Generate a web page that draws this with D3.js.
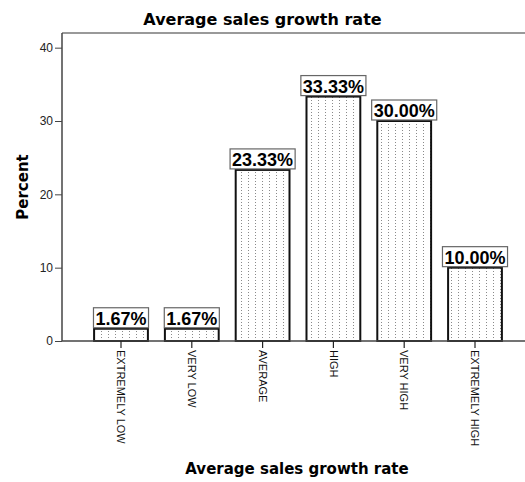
<!DOCTYPE html>
<html><head><meta charset="utf-8">
<script src="https://cdn.jsdelivr.net/npm/d3@7"></script>
<style>body{margin:0;background:#fff}</style>
</head><body>
<svg id="c" width="525" height="482"></svg>
<script>
const categories = ["EXTREMELY LOW","VERY LOW","AVERAGE","HIGH","VERY HIGH","EXTREMELY HIGH"];
const percents = [1.67, 1.67, 23.33, 33.33, 30.00, 10.00];
const yTicks = [0, 10, 20, 30, 40];
const title = "Average sales growth rate";
const xTitle = "Average sales growth rate";
const yTitle = "Percent";

const svg = d3.select("#c");
const pLeft = 62, pRight = 525, pTop = 33, pBottom = 341;

const defs = svg.append("defs");
const pat = defs.append("pattern").attr("id","dots").attr("patternUnits","userSpaceOnUse")
  .attr("width",7).attr("height",3).attr("x",0).attr("y",0);
pat.append("rect").attr("width",7).attr("height",3).attr("fill","#fff");
pat.append("rect").attr("x",3).attr("y",1).attr("width",1).attr("height",1).attr("fill","#8a8a8a");

const x = d3.scaleBand().domain(categories).range([85.6, 510.4]).paddingInner(0.24).paddingOuter(0.12);
const y = d3.scaleLinear().domain([0, 42]).range([pBottom, pTop]);

// title
svg.append("text").attr("x",262.5).attr("y",25).attr("text-anchor","middle")
  .attr("font-family","DejaVu Sans").attr("font-weight","bold").attr("font-size",16).attr("fill","#000").text(title);

// frame top line
svg.append("line").attr("x1",pLeft).attr("x2",pRight).attr("y1",pTop).attr("y2",pTop)
  .attr("stroke","#777").attr("stroke-width",1.5);

// y axis
const yAxis = d3.axisLeft(y).tickValues(yTicks).tickSize(7).tickPadding(2).tickFormat(d3.format("d"));
const ya = svg.append("g").attr("transform",`translate(${pLeft},0)`).call(yAxis);
ya.select(".domain").attr("d",`M0,${pTop}V${pBottom}`).attr("stroke","#444").attr("stroke-width",1.5);
ya.selectAll(".tick line").attr("stroke","#444");
ya.selectAll(".tick text").attr("font-family","Liberation Sans, Arial").attr("font-size",12).attr("fill","#222");

// bars
const bw = x.bandwidth();
svg.append("g").selectAll("rect").data(percents).join("rect")
  .attr("x",(d,i)=>x(categories[i])).attr("width",bw)
  .attr("y",d=>y(d)).attr("height",d=>y(0)-y(d))
  .attr("fill","url(#dots)").attr("stroke","#111").attr("stroke-width",2);

// x axis
const xAxis = d3.axisBottom(x).tickSize(7).tickPadding(3);
const xa = svg.append("g").attr("transform",`translate(0,${pBottom})`).call(xAxis);
xa.select(".domain").attr("d",`M${pLeft},0H${pRight}`).attr("stroke","#444").attr("stroke-width",1.5);
xa.selectAll(".tick line").attr("stroke","#222").attr("stroke-width",1.2);
xa.selectAll(".tick text")
  .attr("font-family","Liberation Sans, Arial").attr("font-size",11).attr("fill","#111")
  .attr("text-anchor","start").attr("dy","0.35em").attr("x",0).attr("y",0)
  .attr("transform","translate(0,9) rotate(90)");

// value labels
const lab = svg.append("g").selectAll("g").data(percents).join("g");
lab.each(function(d,i){
  const g = d3.select(this);
  const cx = x(categories[i]) + bw/2;
  const by = y(d);
  const t = g.append("text").attr("x",cx).attr("y",by-4).attr("text-anchor","middle")
    .attr("font-family","Liberation Sans, Arial").attr("font-weight","bold").attr("font-size",18)
    .attr("fill","#000").text(d.toFixed(2)+"%");
  const w = t.node().getComputedTextLength();
  g.insert("rect","text").attr("x",cx-w/2-2).attr("y",by-21).attr("width",w+4).attr("height",20)
    .attr("fill","#fff").attr("stroke","#666").attr("stroke-width",1.2);
});

// axis titles
svg.append("text").attr("x",297).attr("y",474).attr("text-anchor","middle")
  .attr("font-family","DejaVu Sans").attr("font-weight","bold").attr("font-size",15).attr("fill","#000").text(xTitle);
svg.append("text").attr("transform","translate(28,187) rotate(-90)").attr("text-anchor","middle")
  .attr("font-family","DejaVu Sans").attr("font-weight","bold").attr("font-size",15).attr("fill","#000").text(yTitle);
</script>
</body></html>
